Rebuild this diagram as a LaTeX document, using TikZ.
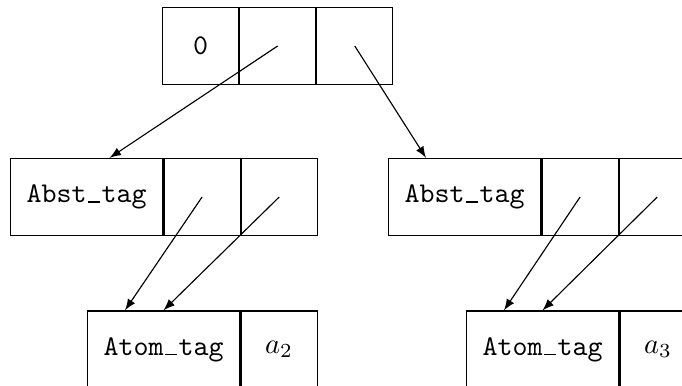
\documentclass[tikz,border=0pt]{standalone}
\usetikzlibrary{positioning,calc}
\newcommand\tagbar{\makebox[0.525em]{\rule{0.4em}{0.45pt}}}
\begin{document}
\begin{tikzpicture}[x=0.35pt,y=-0.35pt,>=latex,
    cell/.style={draw,rectangle,inner sep=0pt,minimum width=26.6pt,minimum height=27pt},
    tagcell/.style={cell,minimum width=53.5pt}]
      \useasboundingbox (0,0) rectangle (682,385);
      \clip (0,0) rectangle (682,385);
      % top cell
      \node[cell] (t0) at (200.5,46) {\texttt{0}};
      \node[cell,right=0pt of t0] (t1) {};
      \node[cell,right=0pt of t1] (t2) {};
      % second row
      \node[tagcell] (l0) at (86.5,197) {\texttt{Abst\tagbar tag}};
      \node[cell,right=0pt of l0] (l1) {};
      \node[cell,right=0pt of l1] (l2) {};
      \node[tagcell] (r0) at (464.5,197) {\texttt{Abst\tagbar tag}};
      \node[cell,right=0pt of r0] (r1) {};
      \node[cell,right=0pt of r1] (r2) {};
      % atoms
      \node[tagcell] (la) at (163.5,349.5) {\texttt{Atom\tagbar tag}};
      \node[cell,right=0pt of la] (lv) {$a_2$};
      \node[tagcell] (ra) at (542.5,349.5) {\texttt{Atom\tagbar tag}};
      \node[cell,right=0pt of ra] (rv) {$a_3$};
      \begin{scope}[->]
        \draw (t1.center) to ($(l0.north west)!0.65!(l0.north east)$);
        \draw (t2.center) to ($(r0.north west)!0.25!(r0.north east)$);
        \draw (l1.center) to ($(la.north west)!0.25!(la.north east)$);
        \draw (l2.center) to (la.north);
        \draw (r1.center) to ($(ra.north west)!0.25!(ra.north east)$);
        \draw (r2.center) to (ra.north);
      \end{scope}
    \end{tikzpicture}
\end{document}
